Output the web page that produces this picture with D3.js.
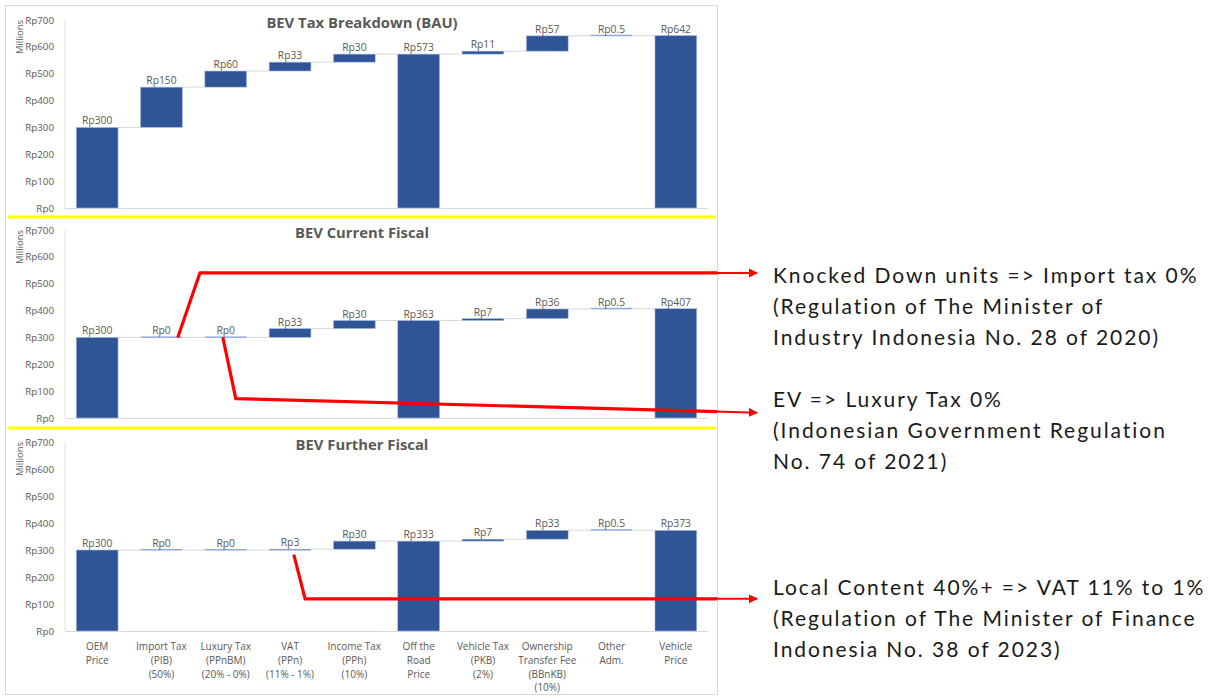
<!DOCTYPE html>
<html>
<head>
<meta charset="utf-8">
<script src="https://cdn.jsdelivr.net/npm/d3@7"></script>
<style>
  body { margin: 0; background: #fff; }
  svg { display: block; }
</style>
</head>
<body>
<div id="chart"></div>
<script>
// categories and the lines used for the axis labels
const categories = ["OEM Price", "Import Tax (PIB) (50%)", "Luxury Tax (PPnBM) (20% - 0%)", "VAT (PPn) (11% - 1%)",
  "Income Tax (PPh) (10%)", "Off the Road Price", "Vehicle Tax (PKB) (2%)",
  "Ownership Transfer Fee (BBnKB) (10%)", "Other Adm.", "Vehicle Price"];
const categoryLines = [["OEM", "Price"], ["Import Tax", "(PIB)", "(50%)"], ["Luxury Tax", "(PPnBM)", "(20% - 0%)"],
  ["VAT", "(PPn)", "(11% - 1%)"], ["Income Tax", "(PPh)", "(10%)"], ["Off the", "Road", "Price"],
  ["Vehicle Tax", "(PKB)", "(2%)"], ["Ownership", "Transfer Fee", "(BBnKB)", "(10%)"], ["Other", "Adm."], ["Vehicle", "Price"]];
const isTotal = [true, false, false, false, false, true, false, false, false, true];

// values in millions of Rupiah
const bauValues = [300, 150, 60, 33, 30, 573, 11, 57, 0.5, 642];
const currentValues = [300, 0, 0, 33, 30, 363, 7, 36, 0.5, 407];
const furtherValues = [300, 0, 0, 3, 30, 333, 7, 33, 0.5, 373];

const panelTitles = ["BEV Tax Breakdown (BAU)", "BEV Current Fiscal", "BEV Further Fiscal"];
const yTicks = [0, 100, 200, 300, 400, 500, 600, 700];

const notes = [
  ["Knocked Down units => Import tax 0%", "(Regulation of The Minister of", "Industry Indonesia No. 28 of 2020)"],
  ["EV => Luxury Tax 0%", "(Indonesian Government Regulation", "No. 74 of 2021)"],
  ["Local Content 40%+ => VAT 11% to 1%", "(Regulation of The Minister of Finance", "Indonesia No. 38 of 2023)"]
];

const width = 1210, height = 698;
const plotLeft = 65, plotRight = 708;
const panels = [
  { values: bauValues, top: 20, bottom: 208 },
  { values: currentValues, top: 230, bottom: 418 },
  { values: furtherValues, top: 442, bottom: 631 }
];
const barColor = "#2f5597";
const grey = "#595959";
const chartFont = "'Open Sans', sans-serif";

const svg = d3.select("#chart").append("svg")
  .attr("width", width)
  .attr("height", height);

// frame of the chart area
svg.append("rect")
  .attr("x", 5.5).attr("y", 5.5)
  .attr("width", 712).attr("height", 689)
  .attr("fill", "none")
  .attr("stroke", "#d9d9d9");

const x = d3.scaleBand()
  .domain(categories)
  .range([plotLeft, plotRight])
  .paddingInner(0.35)
  .paddingOuter(0.175);

const fmt = v => "Rp" + v;

const yScales = [];

panels.forEach((p, pi) => {
  const y = d3.scaleLinear().domain([0, 700]).range([p.bottom, p.top]);
  yScales.push(y);
  const g = svg.append("g");

  // running totals
  let run = 0;
  const steps = p.values.map((v, i) => {
    let lo, hi;
    if (isTotal[i]) { lo = 0; hi = v; run = v; }
    else { lo = run; hi = run + v; run = hi; }
    return { cat: categories[i], v, lo, hi };
  });

  // axes lines
  g.append("line")
    .attr("x1", plotLeft).attr("x2", plotLeft)
    .attr("y1", y(700)).attr("y2", y(0))
    .attr("stroke", "#e3e3e3");
  g.append("line")
    .attr("x1", plotLeft).attr("x2", plotRight)
    .attr("y1", y(0) + 0.5).attr("y2", y(0) + 0.5)
    .attr("stroke", "#d9d9d9");

  const yAxis = g.append("g")
    .attr("transform", `translate(${plotLeft - 8},0)`)
    .call(d3.axisLeft(y).tickValues(yTicks).tickSize(0).tickFormat(fmt));
  yAxis.select(".domain").remove();
  yAxis.selectAll("text")
    .attr("font-family", chartFont)
    .attr("font-size", 9.8)
    .attr("fill", grey);

  g.append("text")
    .text("Millions")
    .attr("transform", `translate(23,${y(700) + 17}) rotate(-90)`)
    .attr("text-anchor", "middle")
    .attr("font-family", chartFont)
    .attr("font-size", 9.5)
    .attr("fill", grey);

  g.append("text")
    .text(panelTitles[pi])
    .attr("x", 362)
    .attr("y", p.top + 8)
    .attr("text-anchor", "middle")
    .attr("font-family", chartFont)
    .attr("font-weight", "bold")
    .attr("font-size", 14.8)
    .attr("fill", grey);

  // connectors
  g.selectAll(".conn")
    .data(steps.slice(0, -1))
    .enter().append("line")
    .attr("x1", d => x(d.cat) + x.bandwidth())
    .attr("x2", (d, i) => x(categories[i + 1]))
    .attr("y1", d => y(d.hi))
    .attr("y2", d => y(d.hi))
    .attr("stroke", "#d9d9d9");

  g.selectAll(".bar")
    .data(steps)
    .enter().append("rect")
    .attr("x", d => x(d.cat))
    .attr("width", x.bandwidth())
    .attr("y", d => y(d.hi) - (d.v < 3 ? 1 : 0))
    .attr("height", d => Math.max(y(d.lo) - y(d.hi), d.v < 3 ? 1.5 : 1))
    .attr("fill", d => d.v < 3 ? "#8faadc" : barColor)
    .attr("stroke", d => d.v < 3 ? "none" : "#a9bde0")
    .attr("stroke-width", 0.6);

  g.selectAll(".lab")
    .data(steps)
    .enter().append("text")
    .text(d => fmt(d.v))
    .attr("x", d => x(d.cat) + x.bandwidth() / 2)
    .attr("y", d => y(d.hi) - 3)
    .attr("text-anchor", "middle")
    .attr("font-family", chartFont)
    .attr("font-size", 10.3)
    .attr("fill", grey);
});

// yellow separators
[217, 428].forEach(yy => {
  svg.append("line")
    .attr("x1", 8).attr("x2", 716)
    .attr("y1", yy).attr("y2", yy)
    .attr("stroke", "#ffff00")
    .attr("stroke-width", 3);
});

// category labels below the last panel
const bottomY = yScales[2](0);
categories.forEach((c, i) => {
  const t = svg.append("text")
    .attr("x", x(c) + x.bandwidth() / 2)
    .attr("y", bottomY + 19)
    .attr("text-anchor", "middle")
    .attr("font-family", chartFont)
    .attr("font-size", 10)
    .attr("fill", grey);
  categoryLines[i].forEach((ln, k) => {
    t.append("tspan")
      .attr("x", x(c) + x.bandwidth() / 2)
      .attr("dy", k === 0 ? 0 : 13.8)
      .text(ln);
  });
});

// annotations
const arrowX = 757;
svg.append("defs").append("marker")
  .attr("id", "head")
  .attr("viewBox", "0 0 10 10")
  .attr("refX", 9).attr("refY", 5)
  .attr("markerWidth", 4.5).attr("markerHeight", 4.5)
  .attr("orient", "auto")
  .append("path")
  .attr("d", "M0,0 L10,5 L0,10 z")
  .attr("fill", "red");

const bw = x.bandwidth();
const y2 = yScales[1], y3 = yScales[2];
const paths = [
  [[x(categories[1]) + bw * 0.89, y2(300)], [x(categories[1]) + bw * 1.42, y2(540)], [717, y2(540)]],
  [[x(categories[2]) + bw * 0.43, y2(300)], [x(categories[2]) + bw * 0.74, y2(72)], [717, y2(24)]],
  [[x(categories[3]) + bw * 0.59, y3(283)], [x(categories[3]) + bw * 0.86, y3(119)], [717, y3(119)]]
];
paths.forEach(pts => {
  svg.append("path")
    .attr("d", d3.line()(pts))
    .attr("fill", "none")
    .attr("stroke", "red")
    .attr("stroke-width", 3.2)
    .attr("stroke-linejoin", "round");
  const last = pts[pts.length - 1], prev = pts[pts.length - 2];
  const slope = (last[1] - prev[1]) / (last[0] - prev[0]);
  svg.append("line")
    .attr("x1", last[0] - 2).attr("y1", last[1] - slope * 2)
    .attr("x2", arrowX).attr("y2", last[1] + slope * (arrowX - last[0]))
    .attr("stroke", "red")
    .attr("stroke-width", 2)
    .attr("marker-end", "url(#head)");
});

const noteTops = [276, 400, 588];
notes.forEach((lines, i) => {
  lines.forEach((ln, k) => {
    svg.append("text")
      .text(ln)
      .attr("x", 773)
      .attr("y", noteTops[i] + k * 31)
      .attr("dy", "0.35em")
      .attr("font-family", "Lato, sans-serif")
      .attr("font-size", 21)
      .attr("letter-spacing", 1.95)
      .attr("fill", "#1a1a1a");
  });
});
</script>
</body>
</html>
